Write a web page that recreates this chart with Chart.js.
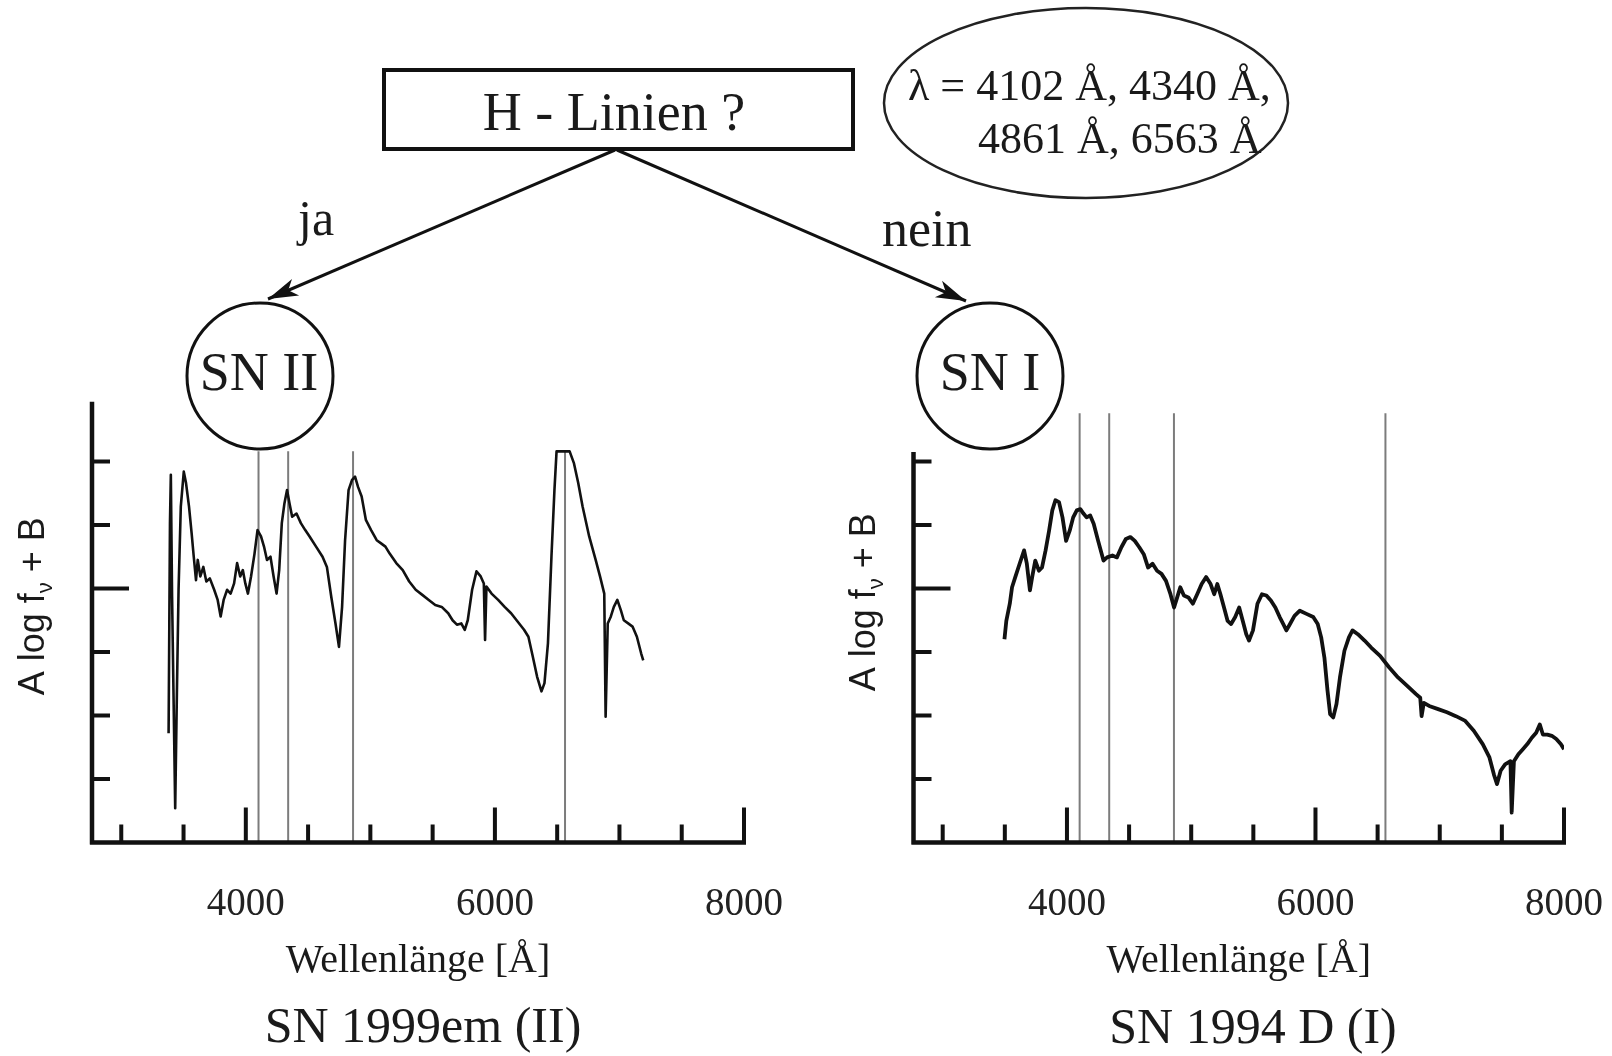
<!DOCTYPE html>
<html>
<head>
<meta charset="utf-8">
<script src="https://cdn.jsdelivr.net/npm/chart.js@4.4.1/dist/chart.umd.min.js"></script>
<style>
  html, body { margin: 0; padding: 0; background: #fff; }
  body { width: 1612px; height: 1056px; position: relative; overflow: hidden; }
  canvas { position: absolute; top: 380px; }
  #leftChart { left: 0; }
  #rightChart { left: 806px; }
  svg { position: absolute; left: 0; top: 0; font-family: "Liberation Serif", serif; }
  svg text { fill: #1a1a1a; }
</style>
</head>
<body>
<canvas id="leftChart" width="806" height="676"></canvas>
<canvas id="rightChart" width="806" height="676"></canvas>

<svg width="1612" height="1056" viewBox="0 0 1612 1056">
  <defs>
    <marker id="head" markerUnits="userSpaceOnUse" markerWidth="36" markerHeight="24" refX="30" refY="11" orient="auto">
      <path d="M0,2 L30,11 L0,20 L8,11 Z" fill="#111"/>
    </marker>
  </defs>
  <rect x="384" y="70" width="469" height="79" fill="none" stroke="#111" stroke-width="4"/>
  <text x="614" y="130" font-size="54" text-anchor="middle">H - Linien ?</text>
  <ellipse cx="1086" cy="103" rx="202" ry="95" fill="none" stroke="#222" stroke-width="2.5"/>
  <text x="908" y="100" font-size="44">λ = 4102 Å, 4340 Å,</text>
  <text x="978" y="153" font-size="44">4861 Å, 6563 Å</text>
  <line x1="615" y1="150" x2="268" y2="299" stroke="#111" stroke-width="3" marker-end="url(#head)"/>
  <line x1="617" y1="150" x2="966" y2="301" stroke="#111" stroke-width="3" marker-end="url(#head)"/>
  <text x="298" y="235" font-size="50">ja</text>
  <text x="882" y="246" font-size="52">nein</text>
  <circle cx="260" cy="376" r="73" fill="#fff" stroke="#111" stroke-width="3"/>
  <text x="259" y="390" font-size="54" text-anchor="middle">SN II</text>
  <circle cx="990" cy="376" r="73" fill="#fff" stroke="#111" stroke-width="3"/>
  <text x="990" y="390" font-size="54" text-anchor="middle">SN I</text>
  <text x="423" y="1042" font-size="50" text-anchor="middle">SN 1999em (II)</text>
  <text x="1253" y="1043" font-size="50" text-anchor="middle">SN 1994 D (I)</text>
</svg>

<script>
// Balmer-Linien, Achsenstriche und beschriftete Achsenwerte
const hLines = [4102, 4340, 4861, 6563];
const xTickValues = [3000, 3500, 4000, 4500, 5000, 5500, 6000, 6500, 7000, 7500, 8000];
const xTickLabels = [4000, 6000, 8000];
const yTickValues = [1, 2, 3, 4, 5, 6];

// SN 1999em (Typ II) - Wellenlänge [Å] und A log f + B
const sn1999emWave = [3380, 3391, 3398, 3408, 3419, 3433, 3447, 3460, 3478, 3502,
  3520, 3544, 3565, 3582, 3600, 3614, 3635, 3659, 3683, 3711,
  3746, 3774, 3798, 3822, 3850, 3878, 3906, 3930, 3955, 3976,
  3996, 4017, 4042, 4070, 4094, 4122, 4146, 4170, 4198, 4223,
  4247, 4268, 4289, 4310, 4331, 4351, 4372, 4407, 4442, 4477,
  4512, 4564, 4616, 4651, 4686, 4720, 4748, 4773, 4797, 4825,
  4853, 4877, 4901, 4930, 4964, 5006, 5051, 5086, 5121, 5155,
  5208, 5260, 5312, 5364, 5417, 5469, 5521, 5573, 5625, 5660,
  5695, 5730, 5758, 5782, 5817, 5852, 5886, 5911, 5921, 5932,
  5973, 6026, 6078, 6130, 6182, 6234, 6269, 6304, 6339, 6374,
  6398, 6426, 6454, 6478, 6495, 6600, 6635, 6669, 6704, 6757,
  6809, 6844, 6878, 6889, 6906, 6931, 6955, 6983, 7011, 7035,
  7070, 7105, 7140, 7174, 7191];
const sn1999emFlux = [1.72, 5.03, 5.79, 3.87, 2.40, 0.54, 2.40, 3.98, 5.29, 5.84,
  5.66, 5.29, 4.87, 4.50, 4.13, 4.45, 4.19, 4.34, 4.11, 4.16,
  3.98, 3.82, 3.56, 3.82, 3.98, 3.92, 4.08, 4.40, 4.19, 4.29,
  4.08, 3.92, 4.19, 4.55, 4.92, 4.82, 4.66, 4.45, 4.50, 4.19,
  3.92, 4.29, 5.03, 5.34, 5.55, 5.34, 5.13, 5.18, 5.03, 4.92,
  4.82, 4.66, 4.50, 4.34, 3.87, 3.45, 3.08, 3.71, 4.76, 5.55,
  5.71, 5.76, 5.60, 5.45, 5.08, 4.92, 4.76, 4.71, 4.66, 4.55,
  4.40, 4.29, 4.11, 3.98, 3.90, 3.82, 3.74, 3.71, 3.61, 3.50,
  3.43, 3.45, 3.35, 3.50, 3.98, 4.27, 4.19, 4.08, 3.19, 4.03,
  3.92, 3.82, 3.71, 3.61, 3.48, 3.35, 3.24, 2.93, 2.61, 2.38,
  2.51, 3.14, 4.50, 5.55, 6.16, 6.16, 5.97, 5.66, 5.29, 4.82,
  4.45, 4.19, 3.92, 1.98, 3.45, 3.56, 3.71, 3.82, 3.66, 3.50,
  3.45, 3.40, 3.24, 2.98, 2.87];

// SN 1994D (Typ I)
const sn1994dWave = [3497, 3512, 3540, 3558, 3584, 3619, 3655, 3677, 3702, 3720,
  3745, 3774, 3799, 3828, 3856, 3882, 3907, 3936, 3964, 3993,
  4022, 4050, 4079, 4108, 4133, 4158, 4187, 4215, 4251, 4294,
  4323, 4366, 4402, 4438, 4474, 4510, 4546, 4582, 4618, 4653,
  4689, 4725, 4761, 4797, 4833, 4862, 4887, 4912, 4941, 4977,
  5013, 5048, 5084, 5120, 5156, 5185, 5210, 5235, 5264, 5293,
  5321, 5354, 5386, 5415, 5443, 5465, 5497, 5533, 5569, 5605,
  5641, 5677, 5712, 5741, 5766, 5795, 5831, 5874, 5928, 5982,
  6018, 6046, 6072, 6097, 6118, 6143, 6169, 6197, 6233, 6269,
  6298, 6341, 6395, 6448, 6520, 6592, 6664, 6736, 6807, 6843,
  6854, 6872, 6915, 6987, 7058, 7130, 7202, 7274, 7346, 7400,
  7436, 7461, 7490, 7526, 7569, 7579, 7597, 7633, 7669, 7705,
  7741, 7776, 7805, 7830, 7866, 7902, 7938, 7974, 8000];
const sn1994dFlux = [3.20, 3.49, 3.76, 4.02, 4.18, 4.39, 4.60, 4.39, 3.97, 4.18,
  4.44, 4.28, 4.33, 4.60, 4.91, 5.23, 5.39, 5.36, 5.12, 4.75,
  4.91, 5.12, 5.23, 5.25, 5.18, 5.12, 5.15, 5.02, 4.75, 4.44,
  4.49, 4.52, 4.49, 4.65, 4.78, 4.81, 4.75, 4.65, 4.54, 4.33,
  4.39, 4.28, 4.23, 4.12, 3.91, 3.70, 3.86, 4.02, 3.89, 3.86,
  3.76, 3.91, 4.07, 4.18, 4.07, 3.91, 4.07, 3.91, 3.70, 3.49,
  3.44, 3.55, 3.70, 3.49, 3.28, 3.18, 3.34, 3.76, 3.91, 3.89,
  3.81, 3.70, 3.55, 3.44, 3.34, 3.44, 3.57, 3.65, 3.60, 3.55,
  3.44, 3.23, 2.91, 2.39, 2.02, 1.97, 2.18, 2.60, 3.02, 3.23,
  3.34, 3.28, 3.18, 3.07, 2.94, 2.76, 2.60, 2.47, 2.34, 2.28,
  1.99, 2.20, 2.15, 2.10, 2.05, 1.99, 1.92, 1.76, 1.55, 1.34,
  1.07, 0.92, 1.13, 1.23, 1.28, 0.47, 1.28, 1.39, 1.47, 1.55,
  1.65, 1.73, 1.86, 1.70, 1.70, 1.68, 1.63, 1.55, 1.47];

const serif = 'Liberation Serif';

// Achsen mit nach innen zeigenden Strichen, wie im Lehrbuch
const handAxes = {
  id: 'handAxes',
  afterDatasetsDraw(chart, args, opts) {
    const ctx = chart.ctx;
    const xs = chart.scales.x, ys = chart.scales.y;
    const area = chart.chartArea;
    const y0 = ys.getPixelForValue(0);
    const yTop = ys.getPixelForValue(opts.axisTop);
    ctx.save();
    ctx.strokeStyle = '#111';
    ctx.lineWidth = 4.5;
    ctx.beginPath();
    ctx.moveTo(area.left, yTop);
    ctx.lineTo(area.left, y0 + 2);
    ctx.moveTo(area.left - 2, y0);
    ctx.lineTo(area.right + 2, y0);
    ctx.stroke();

    ctx.lineWidth = 4;
    ctx.beginPath();
    xs.ticks.forEach(t => {
      const px = xs.getPixelForValue(t.value);
      const len = xTickLabels.includes(t.value) ? 35 : 18;
      ctx.moveTo(px, y0);
      ctx.lineTo(px, y0 - len);
    });
    ys.ticks.forEach(t => {
      const py = ys.getPixelForValue(t.value);
      const len = t.value === opts.longTick ? 37 : 18;
      ctx.moveTo(area.left, py);
      ctx.lineTo(area.left + len, py);
    });
    ctx.stroke();

    // y-Achsentitel: A log f_nu + B
    const size = 36;
    const main = 'A log f', sub = '\u03bd', rest = ' + B';
    ctx.font = size + 'px "Liberation Sans"';
    const w1 = ctx.measureText(main).width;
    const w3 = ctx.measureText(rest).width;
    ctx.font = Math.round(size * 0.62) + 'px "Liberation Sans"';
    const w2 = ctx.measureText(sub).width;
    const total = w1 + w2 + w3;
    ctx.translate(area.left + opts.titleDx, (area.top + area.bottom) / 2 + opts.titleDy);
    ctx.rotate(-Math.PI / 2);
    ctx.fillStyle = '#1a1a1a';
    ctx.textBaseline = 'alphabetic';
    ctx.textAlign = 'left';
    const base = size * 0.36;
    let x = -total / 2;
    ctx.font = size + 'px "Liberation Sans"';
    ctx.fillText(main, x, base);
    x += w1;
    ctx.font = Math.round(size * 0.62) + 'px "Liberation Sans"';
    ctx.fillText(sub, x, base + size * 0.22);
    x += w2;
    ctx.font = size + 'px "Liberation Sans"';
    ctx.fillText(rest, x, base);
    ctx.restore();
  }
};

function makeChart(id, wave, flux, cfg) {
  const spectrum = wave.map((w, i) => ({ x: w, y: flux[i] }));
  const datasets = [{
    data: spectrum,
    borderColor: '#111',
    borderWidth: cfg.lineWidth,
    borderJoinStyle: 'round',
    pointRadius: 0,
    tension: 0
  }];
  hLines.forEach(h => {
    datasets.push({
      data: [{ x: h, y: 0 }, { x: h, y: cfg.lineTop }],
      borderColor: '#7c7c7c',
      borderWidth: 2,
      pointRadius: 0
    });
  });

  return new Chart(document.getElementById(id), {
    type: 'line',
    data: { datasets: datasets },
    plugins: [handAxes],
    options: {
      responsive: false,
      animation: false,
      devicePixelRatio: 1,
      layout: { padding: { left: 0, right: cfg.padRight, top: 18, bottom: 70.5 } },
      plugins: {
        legend: { display: false },
        tooltip: { enabled: false },
        handAxes: { axisTop: cfg.axisTop, longTick: 4, titleDx: cfg.titleDx, titleDy: cfg.titleDy }
      },
      scales: {
        x: {
          type: 'linear',
          min: 2765,
          max: 8000,
          afterBuildTicks: s => { s.ticks = xTickValues.map(v => ({ value: v })); },
          afterFit: s => { s.height = 143; s.paddingLeft = 0; s.paddingRight = 0; },
          grid: { display: false },
          border: { display: false },
          ticks: {
            autoSkip: false,
            maxRotation: 0,
            padding: 31,
            color: '#222',
            font: { family: serif, size: 39 },
            callback: v => xTickLabels.includes(v) ? String(v) : ''
          },
          title: {
            display: true,
            text: 'Wellenlänge [Å]',
            color: '#1a1a1a',
            font: { family: serif, size: 40 },
            padding: { top: 0, bottom: 0 }
          }
        },
        y: {
          type: 'linear',
          min: 0,
          max: 7,
          afterBuildTicks: s => { s.ticks = yTickValues.map(v => ({ value: v })); },
          afterFit: s => { s.width = cfg.yWidth; },
          grid: { display: false },
          border: { display: false },
          ticks: { display: false }
        }
      }
    }
  });
}

makeChart('leftChart', sn1999emWave, sn1999emFlux, {
  yWidth: 92, padRight: 62, axisTop: 6.94, lineTop: 6.16, lineWidth: 2.6, titleDx: -61, titleDy: -14
});
makeChart('rightChart', sn1994dWave, sn1994dFlux, {
  yWidth: 107.5, padRight: 48, axisTop: 6.15, lineTop: 6.76, lineWidth: 3.8, titleDx: -51, titleDy: -18
});
</script>
</body>
</html>
